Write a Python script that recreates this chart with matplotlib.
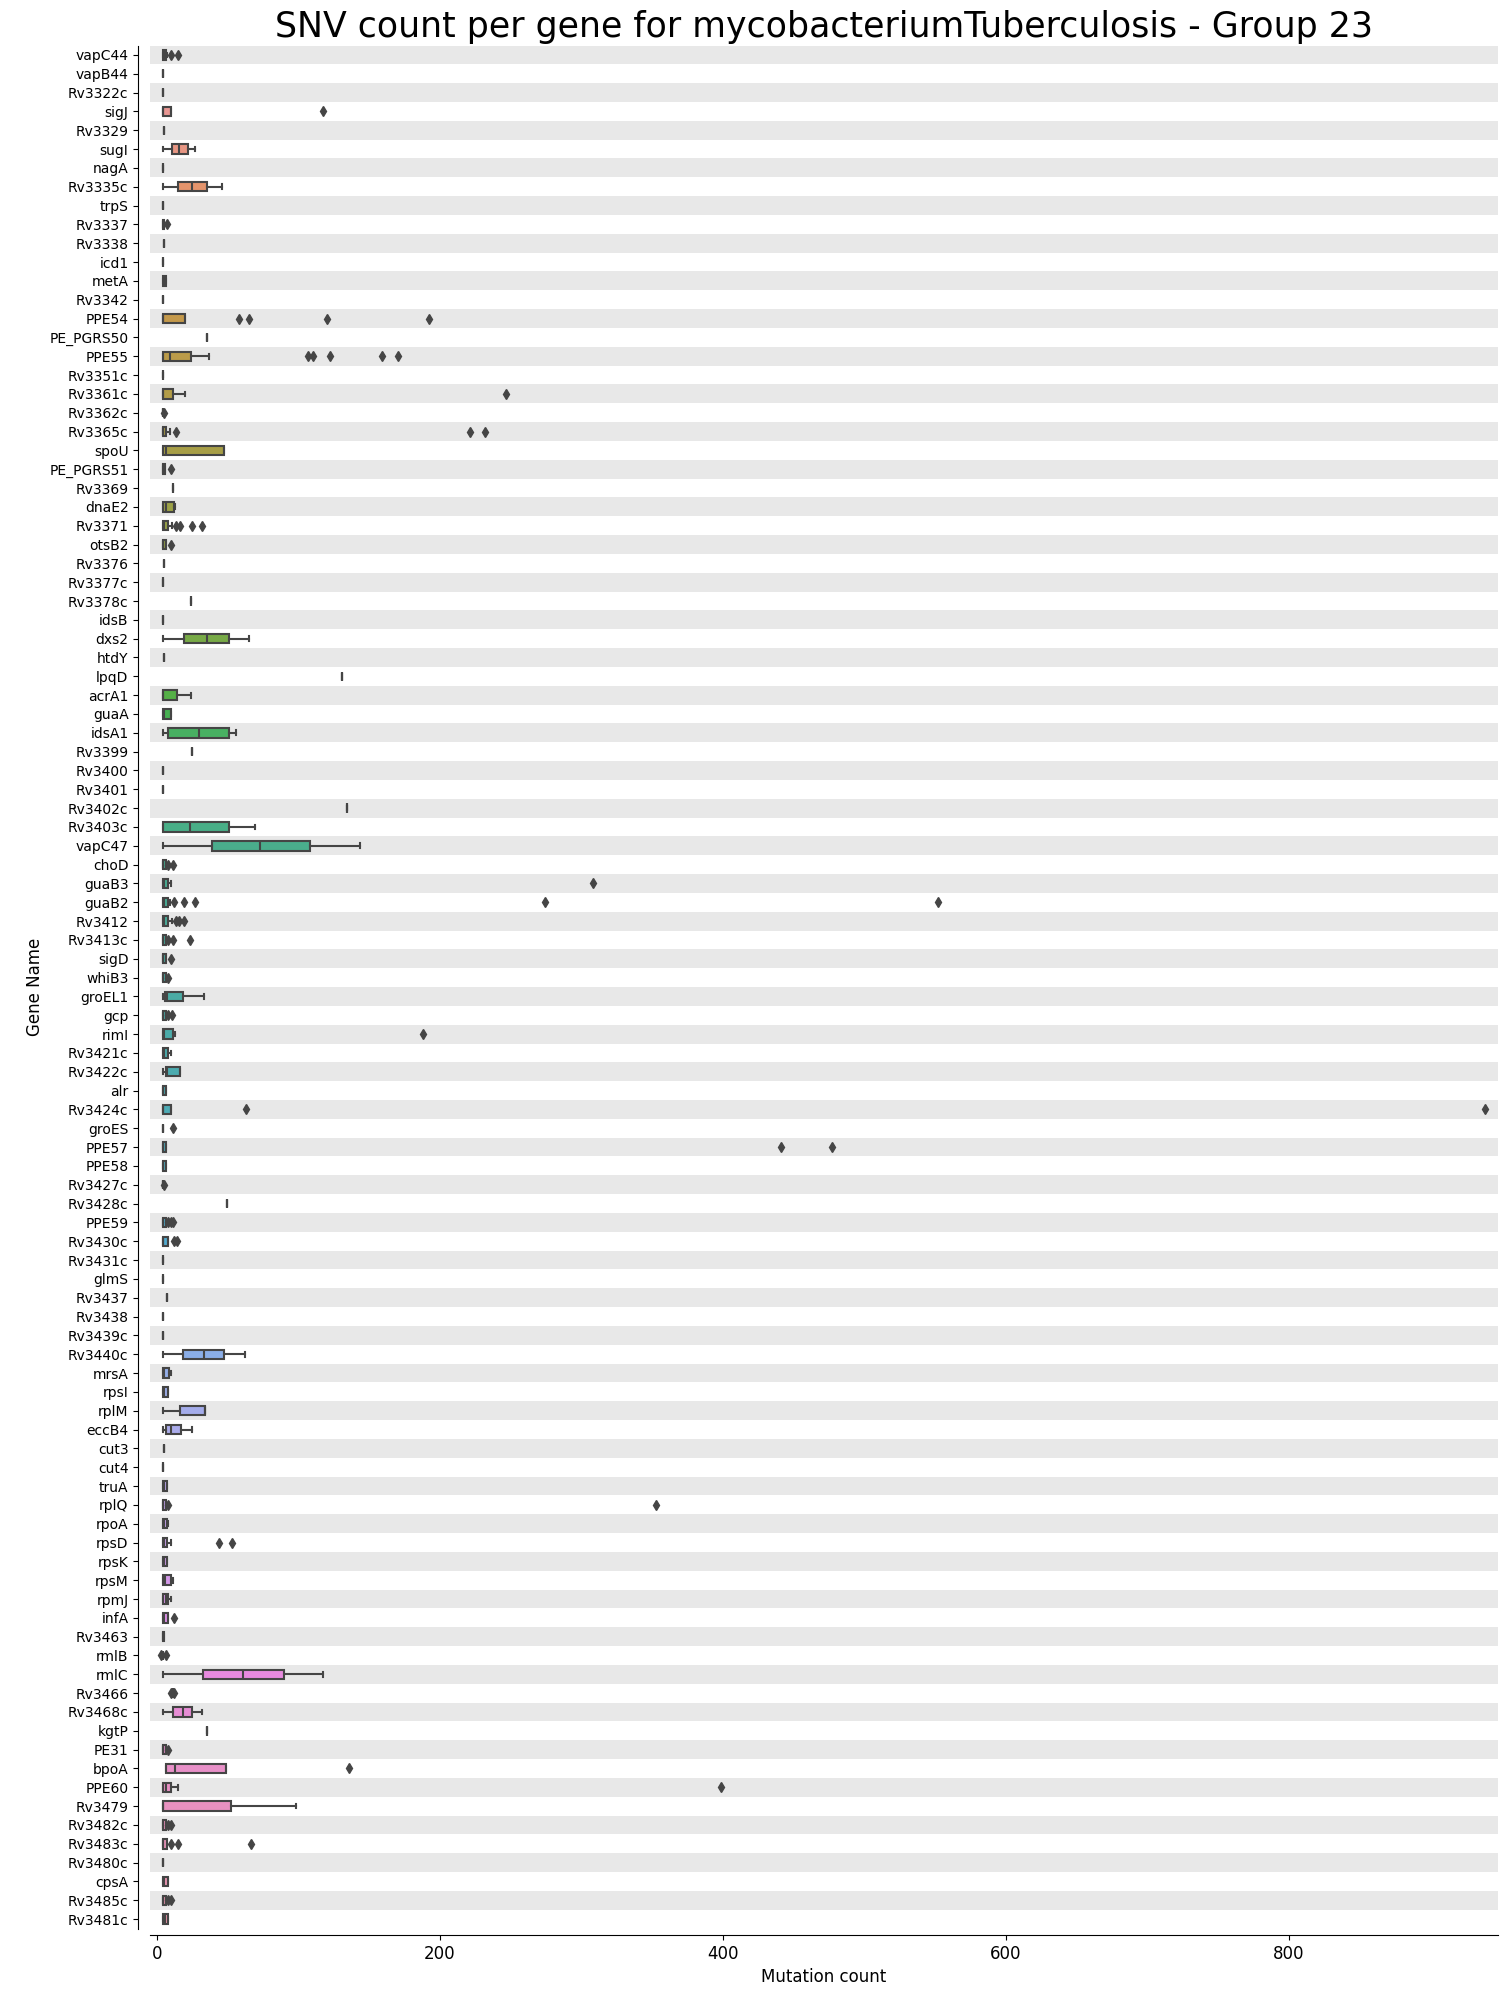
import colorsys
import numpy as np
import matplotlib
matplotlib.use("Agg")
import matplotlib.pyplot as plt
import seaborn as sns

genes = ["vapC44", "vapB44", "Rv3322c", "sigJ", "Rv3329", "sugI", "nagA", "Rv3335c", "trpS", "Rv3337",
         "Rv3338", "icd1", "metA", "Rv3342", "PPE54", "PE_PGRS50", "PPE55", "Rv3351c", "Rv3361c", "Rv3362c",
         "Rv3365c", "spoU", "PE_PGRS51", "Rv3369", "dnaE2", "Rv3371", "otsB2", "Rv3376", "Rv3377c", "Rv3378c",
         "idsB", "dxs2", "htdY", "lpqD", "acrA1", "guaA", "idsA1", "Rv3399", "Rv3400", "Rv3401",
         "Rv3402c", "Rv3403c", "vapC47", "choD", "guaB3", "guaB2", "Rv3412", "Rv3413c", "sigD", "whiB3",
         "groEL1", "gcp", "rimI", "Rv3421c", "Rv3422c", "alr", "Rv3424c", "groES", "PPE57", "PPE58",
         "Rv3427c", "Rv3428c", "PPE59", "Rv3430c", "Rv3431c", "glmS", "Rv3437", "Rv3438", "Rv3439c", "Rv3440c",
         "mrsA", "rpsI", "rplM", "eccB4", "cut3", "cut4", "truA", "rplQ", "rpoA", "rpsD",
         "rpsK", "rpsM", "rpmJ", "infA", "Rv3463", "rmlB", "rmlC", "Rv3466", "Rv3468c", "kgtP",
         "PE31", "bpoA", "PPE60", "Rv3479", "Rv3482c", "Rv3483c", "Rv3480c", "cpsA", "Rv3485c", "Rv3481c"]

# five-number summaries per gene
whislo = [4, 4, 4, 4, 5, 4.5, 4, 4, 4, 4,
          5, 4, 4, 4, 4, 35, 4, 4, 4, 4,
          4, 4, 4, 11, 4, 4, 4, 5, 4, 24,
          4, 4, 5, 131, 4, 4, 4, 24.5, 4, 4,
          134, 4, 4, 4, 4, 4, 4, 4, 4, 4,
          4, 4, 4, 4, 4, 4, 4, 4.5, 4, 4,
          4, 49.5, 4, 4, 4, 4, 7, 4, 4, 4,
          4, 4, 4.5, 4, 5, 4, 4, 4, 4, 4,
          4, 4, 4.5, 4, 4, 4, 4, 11, 4, 35,
          4.5, 6.5, 4, 4, 4, 4, 4, 4, 4, 4]
q1 = [4, 4, 4, 4, 5, 10.5, 4, 14.5, 4, 4,
      5, 4, 4, 4, 4, 35, 4, 4, 4, 4,
      4, 4, 4, 11, 4, 4, 4, 5, 4, 24,
      4, 19, 5, 131, 4, 4, 7.5, 24.5, 4, 4,
      134, 4, 38.5, 4, 4, 4, 4, 4, 4, 4,
      5.5, 4, 4, 4, 6, 4, 4, 4.5, 4, 4,
      4, 49.5, 4, 4, 4, 4, 7, 4, 4, 18,
      4, 4, 16.5, 6, 5, 4, 4, 4, 4, 4,
      4, 4, 4.5, 4, 4, 4, 32.5, 11, 11, 35,
      4.5, 6.5, 4, 4, 4, 4, 4, 4, 4, 4]
med = [5, 4, 4, 4, 5, 15.5, 4, 24.5, 4, 4,
       5, 4, 5, 4, 4, 35, 9, 4, 4, 4,
       4.5, 6, 4, 11, 6.5, 5, 4, 5, 4, 24,
       4, 35, 5, 131, 4, 5, 29.5, 24.5, 4, 4,
       134, 23.5, 73, 4, 5, 5, 5, 4, 4, 4,
       7, 4, 5, 5, 7, 4, 4, 4.5, 4, 4,
       4, 49.5, 4, 4, 4, 4, 7, 4, 4, 33,
       5, 5, 34, 10, 5, 4, 5, 4, 5, 5,
       5, 5.5, 6, 5, 4, 4, 61, 11, 18, 35,
       4.5, 12.5, 6, 4.5, 4, 4, 4, 5, 4, 5.5]
q3 = [6, 4, 4, 10, 5, 22, 4, 35.5, 4, 5,
      5, 4, 6, 4, 20, 35, 24, 4, 11.5, 4,
      6.5, 47.5, 5.5, 11, 12, 7.5, 6, 5, 4, 24,
      4, 50.5, 5, 131, 14, 9.5, 51, 24.5, 4, 4,
      134, 50.5, 108, 6, 7.5, 7.5, 7.5, 6, 6, 6,
      18.5, 6, 11, 7.5, 16.5, 6, 10, 4.5, 6.5, 6,
      4, 49.5, 6, 7.5, 4, 4, 7, 4, 4, 47.5,
      8.5, 8, 34, 17, 5, 4, 7, 6, 7, 7,
      7, 9.5, 7.5, 7.5, 5, 4, 89.5, 11, 25, 35,
      6, 48.5, 9.5, 52.5, 6, 7, 4, 7.5, 6, 8]
whishi = [7, 4, 4, 10, 5, 27, 4, 46, 4, 5,
          5, 4, 6, 4, 20, 35, 37, 4, 20, 4,
          9, 47.5, 5.5, 11, 12.5, 10.5, 6, 5, 4, 24,
          4, 65, 5, 131, 24, 9.5, 55.5, 24.5, 4, 4,
          134, 69.5, 143.5, 6, 9.5, 9, 10.5, 6, 6, 6,
          33, 6, 12.5, 10, 16.5, 6, 10, 4.5, 6.5, 6,
          4, 49.5, 6, 7.5, 4, 4, 7, 4, 4, 62,
          10, 8, 34, 25, 5, 4, 7, 6, 8, 9.5,
          7, 11.5, 9.5, 7.5, 5, 4, 117.5, 11, 32, 35,
          6, 48.5, 15, 98, 6, 7, 4, 7.5, 6, 8]
fliers = [[10, 15], [], [], [117], [], [], [], [], [], [7],
          [], [], [], [], [58, 65, 120, 192], [], [107, 110, 122, 159, 170], [], [247], [5],
          [13, 221, 232], [], [9.5], [], [], [13, 16.5, 25, 32], [9.5], [], [], [],
          [], [], [], [], [], [], [], [], [], [],
          [], [], [], [8, 11.5], [308], [12, 19, 27, 274, 552], [13, 15.5, 19], [8, 11, 23.5], [10], [8],
          [], [8, 10.5], [188], [], [], [], [63, 939], [11], [441, 477], [],
          [5], [], [8, 9.5, 11], [12, 14], [], [], [], [], [], [],
          [], [], [], [], [], [], [], [8, 353], [], [44, 53],
          [], [], [], [12], [], [3, 6], [], [10, 12], [], [],
          [7.5], [136], [399], [], [8, 10], [10, 15, 66.5], [], [], [8, 10], []]

n = len(genes)
pal = [sns.desaturate(c, .75) for c in sns.husl_palette(n, l=.7)]
lum = min(colorsys.rgb_to_hls(*c)[1] for c in pal) * .6
gray = (lum, lum, lum)

stats = []
for i in range(n):
    stats.append(dict(whislo=whislo[i], q1=q1[i], med=med[i], q3=q3[i],
                      whishi=whishi[i], fliers=np.array(fliers[i])))

fig = plt.figure(figsize=(15.08, 19.96), dpi=100)
ax = fig.add_axes([0.0995, 0.0338, 0.8939, 0.9434])

# striped rows
for i in range(0, n, 2):
    ax.axhspan(i - 0.5, i + 0.5, color="#e8e8e8", zorder=0, lw=0)

bp = ax.bxp(stats, positions=range(n), widths=0.5, orientation="horizontal",
            patch_artist=True, showfliers=True,
            boxprops=dict(edgecolor=gray, linewidth=1.5),
            medianprops=dict(color=gray, linewidth=1.5),
            whiskerprops=dict(color=gray, linewidth=1.5),
            capprops=dict(color=gray, linewidth=1.5),
            flierprops=dict(marker="d", markerfacecolor=gray, markeredgecolor=gray,
                            markersize=5, linestyle="none"))
for patch, c in zip(bp["boxes"], pal):
    patch.set_facecolor(c)
    patch.set_zorder(2)

ax.set_ylim(n - 0.5, -0.5)
ax.set_yticks(range(n))
ax.set_yticklabels(genes, fontsize=12)
ax.set_xlim(-5, 948)
ax.set_xticks([0, 200, 400, 600, 800])
ax.tick_params(axis="x", labelsize=12)

ax.spines["top"].set_visible(False)
ax.spines["right"].set_visible(False)
ax.spines["left"].set_position(("outward", 8.5))
ax.spines["bottom"].set_position(("outward", 4.7))

ax.set_xlabel("Mutation count", fontsize=12)
ax.set_ylabel("Gene Name", fontsize=12)
ax.set_title("SNV count per gene for mycobacteriumTuberculosis - Group 23", fontsize=25)

fig.savefig("out.png", dpi=100)
